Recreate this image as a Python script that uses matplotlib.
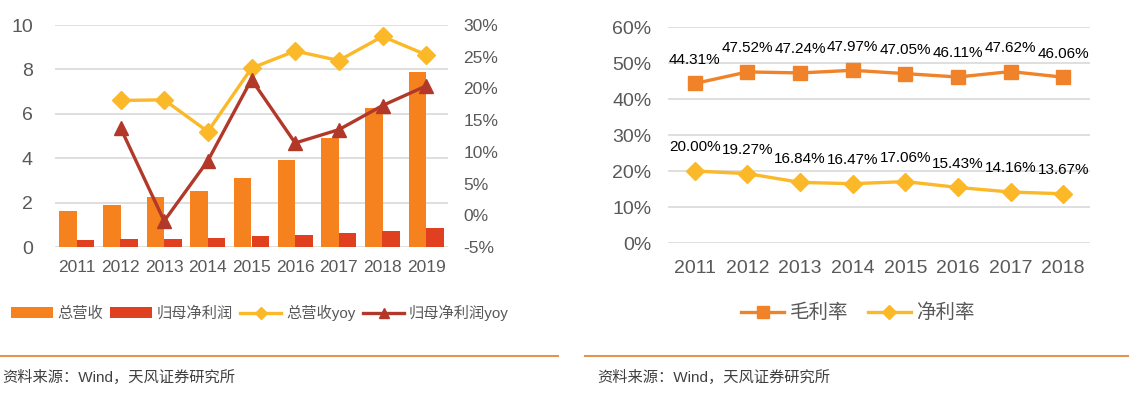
import numpy as np
import matplotlib.pyplot as plt
from matplotlib.lines import Line2D

plt.rcParams['font.family'] = ['Liberation Sans', 'Noto Sans CJK SC', 'DejaVu Sans']

# left chart data
years_l = ['2011', '2012', '2013', '2014', '2015', '2016', '2017', '2018', '2019']
revenue = [1.61, 1.89, 2.24, 2.54, 3.12, 3.92, 4.91, 6.28, 7.88]
net_profit = [0.33, 0.375, 0.36, 0.40, 0.48, 0.54, 0.62, 0.72, 0.87]
revenue_yoy = [np.nan, 18.1, 18.2, 13.2, 23.2, 25.9, 24.4, 28.2, 25.3]
profit_yoy = [np.nan, 13.8, -0.9, 8.6, 21.4, 11.4, 13.5, 17.3, 20.4]

# right chart data
years_r = ['2011', '2012', '2013', '2014', '2015', '2016', '2017', '2018']
gross_margin = [44.31, 47.52, 47.24, 47.97, 47.05, 46.11, 47.62, 46.06]
net_margin = [20.00, 19.27, 16.84, 16.47, 17.06, 15.43, 14.16, 13.67]

c_bar1 = '#F5821F'
c_bar2 = '#E0401F'
c_yel = '#FBB829'
c_dred = '#B2392A'
c_grid = '#D9D9D9'
c_txt = '#595959'
c_sep = '#E39450'

W, H = 1129, 393
fig = plt.figure(figsize=(W / 100, H / 100), dpi=100)

def fx(px):
    return px / W

def fy(py):
    return 1 - py / H

# ---- left chart ----
ax = fig.add_axes([fx(55), fy(247), fx(448 - 55), fy(25) - fy(247)])
x = np.arange(len(years_l))
b1 = ax.bar(x - 0.2, revenue, width=0.4, color=c_bar1, zorder=2)
b2 = ax.bar(x + 0.2, net_profit, width=0.4, color=c_bar2, zorder=2)
ax.set_xlim(-0.5, len(years_l) - 0.5)
ax.set_ylim(0, 10)
ax.set_yticks(range(0, 11, 2))
ax.set_xticks(x)
ax.set_xticklabels(years_l)
ax.grid(axis='y', color=c_grid, linewidth=1.2, zorder=0)
for s in ax.spines.values():
    s.set_visible(False)
ax.tick_params(length=0, colors=c_txt)
ax.tick_params(axis='y', labelsize=14, pad=16)
ax.tick_params(axis='x', labelsize=12.5, pad=9)

ax2 = ax.twinx()
l1, = ax2.plot(x, revenue_yoy, color=c_yel, lw=2.4, marker='D', ms=9, zorder=3)
l2, = ax2.plot(x, profit_yoy, color=c_dred, lw=2.4, marker='^', ms=10, zorder=4)
ax2.set_ylim(-5, 30)
ax2.set_yticks(range(-5, 31, 5))
ax2.set_yticklabels([f'{v}%' for v in range(-5, 31, 5)])
for s in ax2.spines.values():
    s.set_visible(False)
ax2.tick_params(length=0, colors=c_txt, labelsize=12.5, pad=11)

fig.legend([b1, b2, l1, l2], ['总营收', '归母净利润', '总营收yoy', '归母净利润yoy'],
           loc='center', bbox_to_anchor=(fx(260), fy(313)), ncol=4, frameon=False,
           fontsize=11, handlelength=2.7, handletextpad=0.3, columnspacing=0.5,
           labelcolor=c_txt, markerscale=0.7)

# ---- right chart ----
bx = fig.add_axes([fx(668), fy(243), fx(1090 - 668), fy(27) - fy(243)])
xr = np.arange(len(years_r))
g1, = bx.plot(xr, gross_margin, color='#F0832A', lw=2.4, marker='s', ms=10, zorder=3)
g2, = bx.plot(xr, net_margin, color=c_yel, lw=2.4, marker='D', ms=9, zorder=3)
for i in range(len(xr)):
    bx.annotate(f'{gross_margin[i]:.2f}%', (xr[i], gross_margin[i]), xytext=(0, 17),
                textcoords='offset points', ha='center', va='center', fontsize=11, color='black')
    bx.annotate(f'{net_margin[i]:.2f}%', (xr[i], net_margin[i]), xytext=(0, 17),
                textcoords='offset points', ha='center', va='center', fontsize=11, color='black')
bx.set_xlim(-0.51, len(years_r) - 0.49)
bx.set_ylim(0, 60)
bx.set_yticks(range(0, 61, 10))
bx.set_yticklabels([f'{v}%' for v in range(0, 61, 10)])
bx.set_xticks(xr)
bx.set_xticklabels(years_r)
bx.grid(axis='y', color=c_grid, linewidth=1.2, zorder=0)
for s in bx.spines.values():
    s.set_visible(False)
bx.tick_params(length=0, colors=c_txt, labelsize=14)
bx.tick_params(axis='y', pad=12)
bx.tick_params(axis='x', pad=12)

fig.legend([g1, g2], ['毛利率', '净利率'], loc='center', bbox_to_anchor=(fx(858), fy(313)),
           ncol=2, frameon=False, fontsize=14, handlelength=2.2, handletextpad=0.3,
           columnspacing=1.0, labelcolor=c_txt, markerscale=0.8)

# separators and source notes
fig.add_artist(Line2D([fx(0), fx(558)], [fy(356), fy(356)], color=c_sep, lw=1.5))
fig.add_artist(Line2D([fx(585), fx(1129)], [fy(356), fy(356)], color=c_sep, lw=1.5))
fig.text(fx(2), fy(377), '资料来源：Wind，天风证券研究所', fontsize=11, color='#404040', va='center')
fig.text(fx(597), fy(377), '资料来源：Wind，天风证券研究所', fontsize=11, color='#404040', va='center')

fig.savefig('out.png', dpi=100)
